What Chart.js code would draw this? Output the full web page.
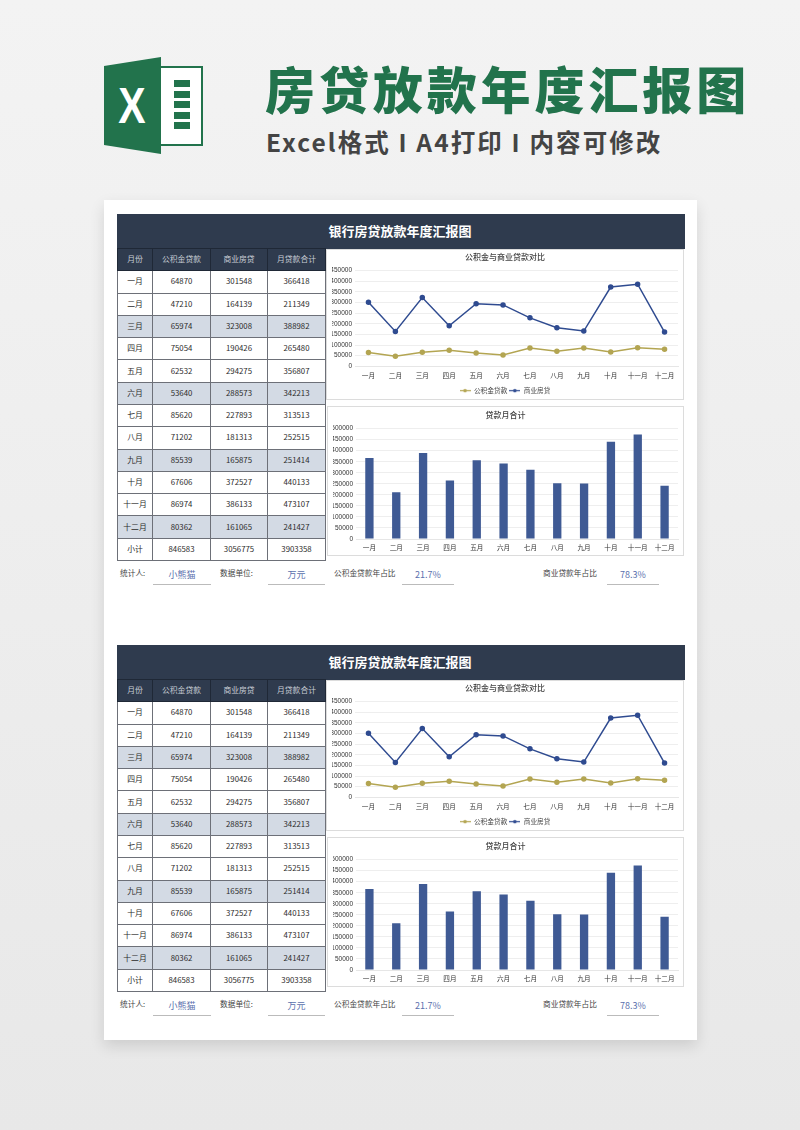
<!DOCTYPE html>
<html lang="zh-CN">
<head>
<meta charset="UTF-8">
<title>房贷放款年度汇报图</title>
<script src="https://cdn.jsdelivr.net/npm/chart.js"></script>
<style>
    * { box-sizing: border-box; }
    html, body { margin: 0; padding: 0; }
    body {
        width: 800px; height: 1130px; position: relative; overflow: hidden;
        background: linear-gradient(#f3f3f3, #e8e8e8);
        font-family: "Noto Sans CJK SC", "Noto Sans", sans-serif;
        color: #3a3a3a;
    }
    .abs { position: absolute; }
    #titulo { left: 265px; top: 51px; font-size: 50px; line-height: 72px; font-weight: 900; color: #22734c; letter-spacing: 3.9px; white-space: nowrap; }
    #sub { left: 266px; top: 123px; font-size: 24.5px; line-height: 38px; font-weight: 700; color: #444; letter-spacing: 2.1px; white-space: nowrap; }
    #folha { left: 104px; top: 200px; width: 593px; height: 840px; background: #fff; box-shadow: 0 6px 14px rgba(0,0,0,.12); }
    .faixa { left: 117px; width: 568px; height: 35px; background: #2f3b4e; color: #fff; font-size: 13px; font-weight: 700; text-align: center; line-height: 34px; text-indent: -2px; }
    table.tabela { position: absolute; left: 117px; width: 208px; height: 313px; border-collapse: collapse; table-layout: fixed; font-size: 7.8px; text-align: center; }
    table.tabela td { border: 1px solid #6d7078; padding: 0 0 2px 0; color: #2b2b2b; }
    table.tabela tr.topo td { background: #2f3b4e; color: #c9ced6; border-color: #1f2836; }
    table.tabela tr.cinza td { background: #d3dae4; }
    .bloco-chart { position: absolute; background: #fff; border: 1px solid #dcdcdc; }
    .bloco-chart canvas { display: block; position: absolute; left: -1px; top: -1px; }
    .rot { position: absolute; font-size: 7.7px; line-height: 12px; white-space: nowrap; color: #444; }
    .val { position: absolute; font-size: 9px; line-height: 17px; text-align: center; color: #5a70ad; border-bottom: 1px solid #bbb; height: 19px; }
</style>
</head>
<body>
<svg class="abs" style="left:104px;top:57px" width="99" height="98" viewBox="0 0 99 98">
    <rect x="50" y="10" width="48" height="78" fill="#fff" stroke="#22734c" stroke-width="2"/>
    <g fill="#22734c">
        <rect x="70" y="23" width="16" height="7"/>
        <rect x="70" y="34" width="16" height="7"/>
        <rect x="70" y="44" width="16" height="7"/>
        <rect x="70" y="55" width="16" height="7"/>
        <rect x="70" y="65" width="16" height="7"/>
    </g>
    <polygon points="0,9 57,0 57,97 0,88" fill="#22734c"/>
    <text font-family="Liberation Sans" font-weight="700" font-size="50" fill="#fff" text-anchor="middle" transform="translate(28,66) scale(.82,1)">X</text>
</svg>
<div id="titulo" class="abs">房贷放款年度汇报图</div>
<div id="sub" class="abs">Excel格式 I A4打印 I 内容可修改</div>
<div id="folha" class="abs"></div>
<div id="relatorios"></div>
<script>
    var meses = ['一月','二月','三月','四月','五月','六月','七月','八月','九月','十月','十一月','十二月'];
    var gjjDados = [64870,47210,65974,75054,62532,53640,85620,71202,85539,67606,86974,80362];
    var comercialDados = [301548,164139,323008,190426,294275,288573,227893,181313,165875,372527,386133,161065];
    var totalDados = [366418,211349,388982,265480,356807,342213,313513,252515,251414,440133,473107,241427];
    var subtotal = [846583,3056775,3903358];
    var colunas = ['月份','公积金贷款','商业房贷','月贷款合计'];
    var larguras = [35,58,57,58];
    var linhasCinza = ['三月','六月','九月','十二月'];
    var corGjj = '#b3a552';
    var corCom = '#2f4b90';
    var corBarra = '#3f5a94';
    var blocosTop = [214, 645];

    Chart.defaults.font.family = '"Noto Sans CJK SC", "Noto Sans", sans-serif';
    Chart.defaults.color = '#444';

    function iconeLegenda(cor) {
        var c = document.createElement('canvas');
        c.width = 11; c.height = 7;
        var x = c.getContext('2d');
        x.strokeStyle = cor; x.lineWidth = 1.2;
        x.beginPath(); x.moveTo(0, 3.5); x.lineTo(11, 3.5); x.stroke();
        x.fillStyle = cor;
        x.beginPath(); x.arc(5.5, 3.5, 1.8, 0, Math.PI * 2); x.fill();
        return c;
    }

    function eixos(maximo, alturaX) {
        return {
            x: {
                offset: true,
                grid: { display: false, drawTicks: false },
                border: { color: '#e6e6e6' },
                ticks: { font: { size: 6.6 }, maxRotation: 0, autoSkip: false, padding: 5, color: '#333' },
                afterFit: function (s) { s.height = alturaX; }
            },
            y: {
                min: 0, max: maximo,
                grid: { color: '#eeeeee', drawTicks: false },
                border: { display: false },
                ticks: {
                    stepSize: 50000, autoSkip: false, padding: 3, color: '#333',
                    font: { size: 6.5, family: '"Liberation Sans", sans-serif' },
                    callback: function (v) { return String(v); }
                },
                afterFit: function (s) { s.width = 23; }
            }
        };
    }

    function tituloChart(texto, padTopo, padBaixo) {
        return { display: true, text: texto, color: '#444', font: { size: 8, weight: '500' }, padding: { top: padTopo, bottom: padBaixo } };
    }

    function criarTabela(top, pai) {
        var t = document.createElement('table');
        t.className = 'tabela';
        t.style.top = top + 'px';
        var html = '<colgroup>' + larguras.map(function (l) { return '<col style="width:' + l + 'px">'; }).join('') + '</colgroup>';
        html += '<tr class="topo">' + colunas.map(function (c) { return '<td>' + c + '</td>'; }).join('') + '</tr>';
        for (var i = 0; i < meses.length; i++) {
            var cls = linhasCinza.indexOf(meses[i]) >= 0 ? ' class="cinza"' : '';
            html += '<tr' + cls + '><td>' + meses[i] + '</td><td>' + gjjDados[i] + '</td><td>' + comercialDados[i] + '</td><td>' + totalDados[i] + '</td></tr>';
        }
        html += '<tr><td>小计</td>' + subtotal.map(function (v) { return '<td>' + v + '</td>'; }).join('') + '</tr>';
        t.innerHTML = html;
        pai.appendChild(t);
    }

    function criarCanvas(pai, left, top, w, h) {
        var d = document.createElement('div');
        d.className = 'bloco-chart';
        d.style.cssText = 'left:' + left + 'px;top:' + top + 'px;width:' + w + 'px;height:' + h + 'px';
        var c = document.createElement('canvas');
        c.width = w; c.height = h;
        d.appendChild(c);
        pai.appendChild(d);
        return c;
    }

    function criarRodape(top, pai) {
        var rotulos = [['统计人:', 120], ['数据单位:', 220], ['公积金贷款年占比', 334], ['商业贷款年占比', 543]];
        rotulos.forEach(function (r) {
            var e = document.createElement('div');
            e.className = 'rot';
            e.style.cssText = 'left:' + r[1] + 'px;top:' + top + 'px';
            e.textContent = r[0];
            pai.appendChild(e);
        });
        var valores = [['小熊猫', 153, 58], ['万元', 268, 57], ['21.7%', 402, 52], ['78.3%', 607, 52]];
        valores.forEach(function (v) {
            var e = document.createElement('div');
            e.className = 'val';
            e.style.cssText = 'left:' + v[1] + 'px;top:' + (top - 1) + 'px;width:' + v[2] + 'px';
            e.textContent = v[0];
            pai.appendChild(e);
        });
    }

    function criarRelatorio(top) {
        var pai = document.getElementById('relatorios');
        var faixa = document.createElement('div');
        faixa.className = 'abs faixa';
        faixa.style.top = top + 'px';
        faixa.textContent = '银行房贷放款年度汇报图';
        pai.appendChild(faixa);
        criarTabela(top + 34, pai);
        criarRodape(top + 353, pai);

        var c1 = criarCanvas(pai, 326, top + 35, 358, 151);
        new Chart(c1, {
            type: 'line',
            data: {
                labels: meses,
                datasets: [
                    { label: '公积金贷款', data: gjjDados, borderColor: corGjj, backgroundColor: corGjj, borderWidth: 1.5, pointRadius: 2, tension: 0 },
                    { label: '商业房贷', data: comercialDados, borderColor: corCom, backgroundColor: corCom, borderWidth: 1.5, pointRadius: 2, tension: 0 }
                ]
            },
            options: {
                responsive: false, animation: false,
                layout: { padding: { left: 6, right: 6, bottom: -4 } },
                scales: eixos(450000, 19),
                plugins: {
                    title: tituloChart('公积金与商业贷款对比', 3, 9),
                    legend: {
                        position: 'bottom',
                        labels: {
                            usePointStyle: true, pointStyleWidth: 11, font: { size: 6.7 }, color: '#444', padding: 2, boxHeight: 7,
                            generateLabels: function (chart) {
                                return Chart.defaults.plugins.legend.labels.generateLabels(chart).map(function (l, i) {
                                    l.pointStyle = iconeLegenda(i === 0 ? corGjj : corCom);
                                    return l;
                                });
                            }
                        }
                    },
                    tooltip: { enabled: false }
                }
            }
        });

        var c2 = criarCanvas(pai, 327, top + 192, 357, 150);
        new Chart(c2, {
            type: 'bar',
            data: {
                labels: meses,
                datasets: [{ label: '贷款月合计', data: totalDados, backgroundColor: corBarra, barPercentage: 1, categoryPercentage: 0.31 }]
            },
            options: {
                responsive: false, animation: false,
                layout: { padding: { left: 6, right: 6 } },
                scales: eixos(500000, 17),
                plugins: {
                    title: tituloChart('贷款月合计', 4, 9),
                    legend: { display: false },
                    tooltip: { enabled: false }
                }
            }
        });
    }

    blocosTop.forEach(criarRelatorio);
</script>
</body>
</html>
